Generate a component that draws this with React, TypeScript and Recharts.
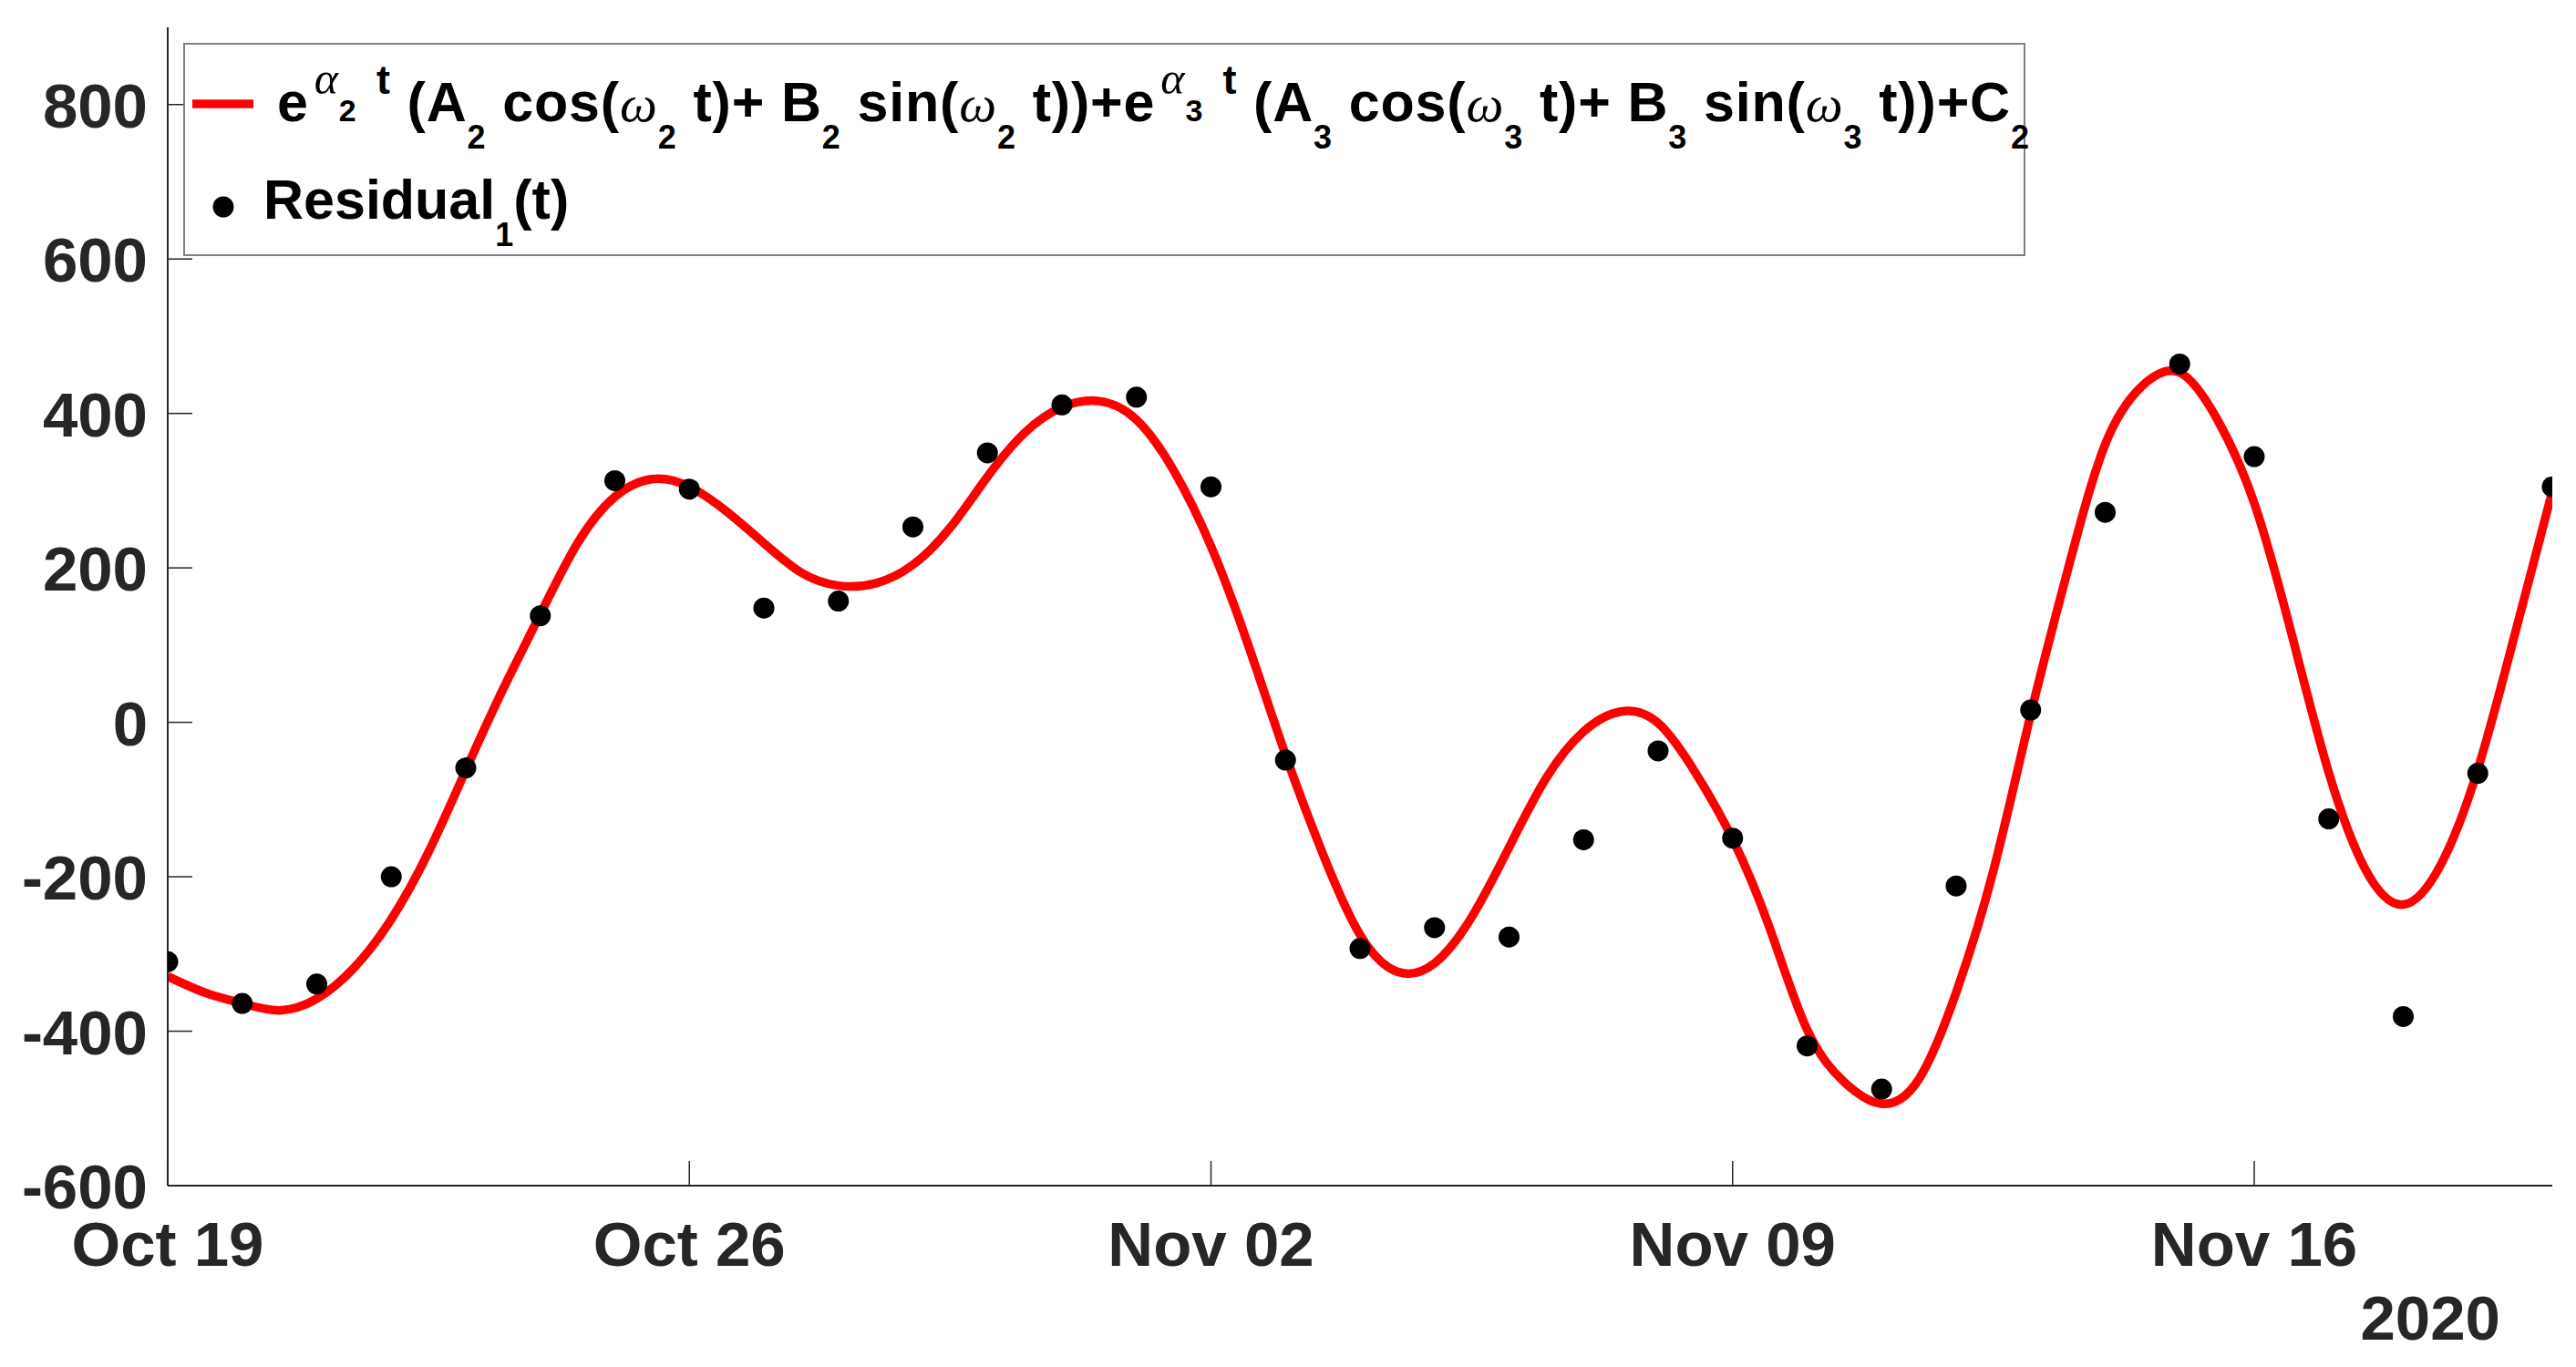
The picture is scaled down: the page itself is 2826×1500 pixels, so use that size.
import React from 'react';
import { ComposedChart, Line, Scatter, XAxis, YAxis, Legend } from 'recharts';

// Residual_1(t): one observation per day, Oct 19 .. Nov 20 (2020)
const residualValues = [
  -310, -364, -339, -200, -59, 138, 313, 302, 148, 157, 253, 349, 411, 421, 305, -49,
  -293, -266, -278, -152, -37, -150, -419, -475, -212, 16, 272, 464, 344, -125, -381, -66, 305,
];

// fitted curve, read every half day from Oct 19 to Nov 20
const curveValues = [
  -329, -350, -364, -373, -358, -318, -255, -168, -62, 43, 140, 232, 292, 315, 305, 273,
  232, 194, 177, 180, 204, 252, 318, 375, 408, 416, 392, 326, 228, 100, -42, -170,
  -275, -323, -312, -252, -162, -72, -12, 14, -1, -65, -151, -267, -398, -466, -494, -462,
  -350, -192, 10, 198, 360, 436, 453, 393, 284, 115, -65, -192, -236, -185, -61, 115, 299,
];

const xTickDays = [0, 7, 14, 21, 28];
const xTickLabels = ['Oct 19', 'Oct 26', 'Nov 02', 'Nov 09', 'Nov 16'];
const yTicks = [-600, -400, -200, 0, 200, 400, 600, 800];
const yearLabel = '2020';

const residualData = residualValues.map((v, i) => ({ day: i, value: v }));
const curveData = curveValues.map((v, i) => ({ day: i / 2, value: v }));

const FONT = '"Liberation Sans", Arial, Helvetica, sans-serif';
const SERIF = '"Liberation Serif", "Times New Roman", serif';
const DARK = '#262626';
const GRAY = '#808080';
const TICK_LEN = 27;

const LeftTick = (props: any) => {
  const { x, y, payload } = props;
  return (
    <g>
      <line x1={x + 22} x2={x + 22 + TICK_LEN} y1={y} y2={y} stroke={DARK} strokeWidth={1.5} />
      <text x={x} y={y} dy={25} textAnchor="end" fontFamily={FONT} fontWeight="bold" fontSize={69} fill={DARK}>
        {payload.value}
      </text>
    </g>
  );
};

const BottomTick = (props: any) => {
  const { x, y, payload } = props;
  const idx = xTickDays.indexOf(payload.value);
  return (
    <g>
      <line x1={x} x2={x} y1={y} y2={y - TICK_LEN} stroke={DARK} strokeWidth={1.5} />
      <text x={x} y={y + 88} textAnchor="middle" fontFamily={FONT} fontWeight="bold" fontSize={69} fill={DARK}>
        {idx >= 0 ? xTickLabels[idx] : ''}
      </text>
    </g>
  );
};

const TopTick = (props: any) => {
  const { x, y } = props;
  return <line x1={x} x2={x} y1={y} y2={y + TICK_LEN} stroke={GRAY} strokeWidth={2} />;
};

const RightTick = (props: any) => {
  const { x, y } = props;
  return <line x1={x} x2={x - TICK_LEN} y1={y} y2={y} stroke={GRAY} strokeWidth={2} />;
};

const YearLabel = (props: any) => {
  const vb = props.viewBox || {};
  return (
    <text
      x={vb.x + vb.width - 57}
      y={vb.y + 169}
      textAnchor="end"
      fontFamily={FONT}
      fontWeight="bold"
      fontSize={69}
      fill={DARK}
    >
      {yearLabel}
    </text>
  );
};

type Seg = { t: string; p?: 'n' | 'sub' | 'sup' | 'ss'; g?: boolean; dx?: number };

const MAIN = 61;

const renderTex = (segs: Seg[], x: number, y: number, key: string, len?: number) => {
  let cur = 0;
  const spans = segs.map((s, i) => {
    const p = s.p || 'n';
    const target = p === 'sub' ? 30 : p === 'sup' ? -30 : 0;
    const dy = target - cur;
    cur = target;
    let size = MAIN;
    if (p === 'sub') size = 36;
    else if (p === 'ss') size = 34;
    else if (p === 'sup') size = s.g ? 50 : 45;
    else if (s.g) size = 58;
    return (
      <tspan
        key={i}
        dy={dy}
        dx={s.dx || 0}
        fontSize={size}
        fontFamily={s.g ? SERIF : FONT}
        fontStyle={s.g ? 'italic' : 'normal'}
        fontWeight={s.g ? 'normal' : 'bold'}
      >
        {s.t}
      </tspan>
    );
  });
  return (
    <text
      key={key}
      x={x}
      y={y}
      fill="#000"
      style={{ whiteSpace: 'pre' }}
      {...(len ? { textLength: len, lengthAdjust: 'spacing' } : {})}
    >
      {spans}
    </text>
  );
};

const line1: Seg[] = [
  { t: 'e' },
  { t: 'α', p: 'sup', g: true, dx: 6 },
  { t: '2', p: 'ss' },
  { t: ' t', p: 'sup', dx: 8 },
  { t: ' (A' },
  { t: '2', p: 'sub' },
  { t: ' cos(' },
  { t: 'ω', g: true },
  { t: '2', p: 'sub' },
  { t: ' t)+ B' },
  { t: '2', p: 'sub' },
  { t: ' sin(' },
  { t: 'ω', g: true },
  { t: '2', p: 'sub' },
  { t: ' t))+e' },
  { t: 'α', p: 'sup', g: true, dx: 6 },
  { t: '3', p: 'ss' },
  { t: ' t', p: 'sup', dx: 8 },
  { t: ' (A' },
  { t: '3', p: 'sub' },
  { t: ' cos(' },
  { t: 'ω', g: true },
  { t: '3', p: 'sub' },
  { t: ' t)+ B' },
  { t: '3', p: 'sub' },
  { t: ' sin(' },
  { t: 'ω', g: true },
  { t: '3', p: 'sub' },
  { t: ' t))+C' },
  { t: '2', p: 'sub' },
];

const line2: Seg[] = [{ t: 'Residual' }, { t: '1', p: 'sub' }, { t: '(t)' }];

const LegendBox = () => (
  <svg width={2022} height={236} style={{ display: 'block', overflow: 'visible' }}>
    <rect x={1} y={1} width={2019} height={232} fill="#fff" stroke={GRAY} strokeWidth={2} />
    <line x1={10} x2={77} y1={67} y2={67} stroke="#ff0000" strokeWidth={9.5} />
    {renderTex(line1, 103, 86, 'l1', 1922)}
    <circle cx={44} cy={180} r={11.5} fill="#000" />
    {renderTex(line2, 88, 193, 'l2')}
  </svg>
);

const Dot = (p: any) => <circle cx={p.cx} cy={p.cy} r={11.5} fill="#000" />;

export default function App() {
  return (
    <div style={{ position: 'absolute', left: 0, top: 0, width: 2826, height: 1500, background: '#fff' }}>
      <ComposedChart width={2826} height={1500} margin={{ top: 30, right: 26, bottom: 0, left: 0 }}>
        <XAxis
          xAxisId="main"
          dataKey="day"
          type="number"
          domain={[0, 32]}
          ticks={xTickDays}
          allowDataOverflow
          height={199}
          tickSize={0}
          tickMargin={0}
          tick={<BottomTick />}
          axisLine={{ stroke: DARK, strokeWidth: 2 }}
          tickLine={false}
          interval={0}
          label={<YearLabel />}
        />
        <XAxis
          xAxisId="top"
          orientation="top"
          dataKey="day"
          type="number"
          domain={[0, 32]}
          ticks={xTickDays}
          allowDataOverflow
          height={0}
          tickSize={0}
          tickMargin={0}
          tick={<TopTick />}
          axisLine={{ stroke: GRAY, strokeWidth: 2 }}
          tickLine={false}
          interval={0}
        />
        <YAxis
          yAxisId="main"
          type="number"
          domain={[-600, 900]}
          ticks={yTicks}
          allowDataOverflow
          width={184}
          tickSize={0}
          tickMargin={22}
          tick={<LeftTick />}
          axisLine={{ stroke: DARK, strokeWidth: 2 }}
          tickLine={false}
          interval={0}
        />
        <YAxis
          yAxisId="right"
          orientation="right"
          type="number"
          domain={[-600, 900]}
          ticks={yTicks}
          allowDataOverflow
          width={0}
          tickSize={0}
          tickMargin={0}
          tick={<RightTick />}
          axisLine={{ stroke: GRAY, strokeWidth: 2 }}
          tickLine={false}
          interval={0}
        />
        <Line
          xAxisId="main"
          yAxisId="main"
          data={curveData}
          dataKey="value"
          type="natural"
          stroke="#ff0000"
          strokeWidth={9.5}
          dot={false}
          activeDot={false}
          isAnimationActive={false}
          legendType="line"
        />
        <Scatter
          xAxisId="main"
          yAxisId="main"
          data={residualData}
          dataKey="value"
          fill="#000"
          shape={<Dot />}
          isAnimationActive={false}
        />
        <Legend
          layout="vertical"
          align="center"
          verticalAlign="middle"
          content={() => <LegendBox />}
          wrapperStyle={{ position: 'absolute', left: 201, top: 47, width: 2022, height: 236 }}
        />
      </ComposedChart>
    </div>
  );
}
